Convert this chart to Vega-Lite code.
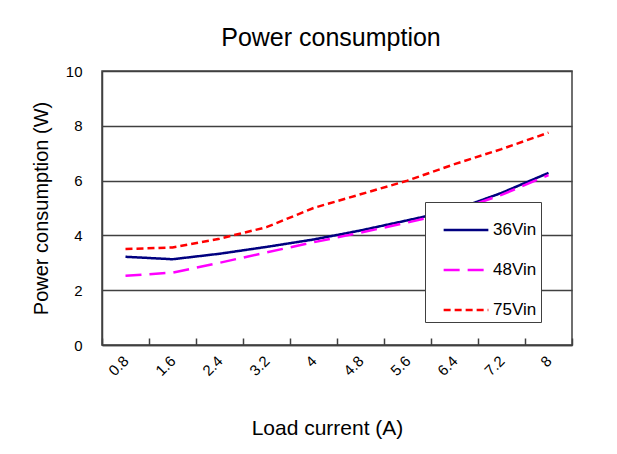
{
  "$schema": "https://vega.github.io/schema/vega-lite/v6.json",
  "autosize": {"type": "none"},
  "padding": {"left": 102, "top": 71, "right": 45, "bottom": 109},
  "width": 470,
  "height": 274,
  "background": "white",
  "title": {
    "text": "Power consumption",
    "font": "Liberation Sans",
    "fontSize": 25,
    "fontWeight": "normal",
    "color": "black",
    "anchor": "middle",
    "offset": 13,
    "dx": -6
  },
  "data": {
    "values": [
      {"current": "0.8", "series": "36Vin", "power": 3.22},
      {"current": "1.6", "series": "36Vin", "power": 3.13},
      {"current": "2.4", "series": "36Vin", "power": 3.33},
      {"current": "3.2", "series": "36Vin", "power": 3.58},
      {"current": "4", "series": "36Vin", "power": 3.85},
      {"current": "4.8", "series": "36Vin", "power": 4.18},
      {"current": "5.6", "series": "36Vin", "power": 4.55},
      {"current": "6.4", "series": "36Vin", "power": 4.93},
      {"current": "7.2", "series": "36Vin", "power": 5.55},
      {"current": "8", "series": "36Vin", "power": 6.28},
      {"current": "0.8", "series": "48Vin", "power": 2.53},
      {"current": "1.6", "series": "48Vin", "power": 2.64},
      {"current": "2.4", "series": "48Vin", "power": 3.0},
      {"current": "3.2", "series": "48Vin", "power": 3.38},
      {"current": "4", "series": "48Vin", "power": 3.75},
      {"current": "4.8", "series": "48Vin", "power": 4.1},
      {"current": "5.6", "series": "48Vin", "power": 4.47},
      {"current": "6.4", "series": "48Vin", "power": 4.88},
      {"current": "7.2", "series": "48Vin", "power": 5.48},
      {"current": "8", "series": "48Vin", "power": 6.2},
      {"current": "0.8", "series": "75Vin", "power": 3.5},
      {"current": "1.6", "series": "75Vin", "power": 3.56},
      {"current": "2.4", "series": "75Vin", "power": 3.88},
      {"current": "3.2", "series": "75Vin", "power": 4.3},
      {"current": "4", "series": "75Vin", "power": 5.0},
      {"current": "4.8", "series": "75Vin", "power": 5.5},
      {"current": "5.6", "series": "75Vin", "power": 6.0},
      {"current": "6.4", "series": "75Vin", "power": 6.6},
      {"current": "7.2", "series": "75Vin", "power": 7.15},
      {"current": "8", "series": "75Vin", "power": 7.75}
    ]
  },
  "mark": {"type": "line", "strokeWidth": 2.5},
  "encoding": {
    "x": {
      "field": "current",
      "type": "ordinal",
      "sort": ["0.8", "1.6", "2.4", "3.2", "4", "4.8", "5.6", "6.4", "7.2", "8"],
      "scale": {"type": "band", "paddingInner": 0, "paddingOuter": 0},
      "axis": {
        "title": "Load current (A)",
        "titleFont": "Liberation Sans",
        "titleFontSize": 21,
        "titleFontWeight": "normal",
        "titleColor": "black",
        "titlePadding": 39,
        "titleX": 225,
        "labelFont": "Liberation Sans",
        "labelFontSize": 15,
        "labelColor": "black",
        "labelAngle": -45,
        "labelAlign": "right",
        "labelBaseline": "middle",
        "labelPadding": 20,
        "tickBand": "extent",
        "ticks": true,
        "tickSize": -7,
        "tickColor": "#404040",
        "tickWidth": 1.5,
        "domainColor": "#404040",
        "domainWidth": 1.5,
        "grid": false
      }
    },
    "y": {
      "field": "power",
      "type": "quantitative",
      "scale": {"domain": [0, 10], "nice": false},
      "axis": {
        "title": "Power consumption (W)",
        "titleFont": "Liberation Sans",
        "titleFontSize": 20,
        "titleFontWeight": "normal",
        "titleColor": "black",
        "titlePadding": 14,
        "labelFont": "Liberation Sans",
        "labelFontSize": 15,
        "labelColor": "black",
        "labelPadding": 20,
        "values": [0, 2, 4, 6, 8, 10],
        "ticks": false,
        "domainColor": "#404040",
        "domainWidth": 1.5,
        "grid": true,
        "gridColor": "#404040",
        "gridWidth": 1.5,
        "gridOpacity": 1
      }
    },
    "color": {
      "field": "series",
      "type": "nominal",
      "scale": {"domain": ["36Vin", "48Vin", "75Vin"], "range": ["#000080", "#FF00FF", "#FF0000"]},
      "legend": {
        "title": null,
        "orient": "none",
        "legendX": 323,
        "legendY": 131,
        "fillColor": "white",
        "strokeColor": "#404040",
        "padding": 4,
        "symbolType": "stroke",
        "symbolSize": 2000,
        "symbolStrokeWidth": 2.5,
        "symbolOffset": 13,
        "labelFont": "Liberation Sans",
        "labelFontSize": 17,
        "labelColor": "black",
        "labelOffset": 3,
        "labelExpr": "datum.label + '   '",
        "rowPadding": 8
      }
    },
    "strokeDash": {
      "field": "series",
      "type": "nominal",
      "scale": {"domain": ["36Vin", "48Vin", "75Vin"], "range": [[1, 0], [16, 8], [7, 4]]},
      "legend": null
    }
  },
  "config": {
    "view": {"stroke": "#404040", "strokeWidth": 1.5}
  }
}
